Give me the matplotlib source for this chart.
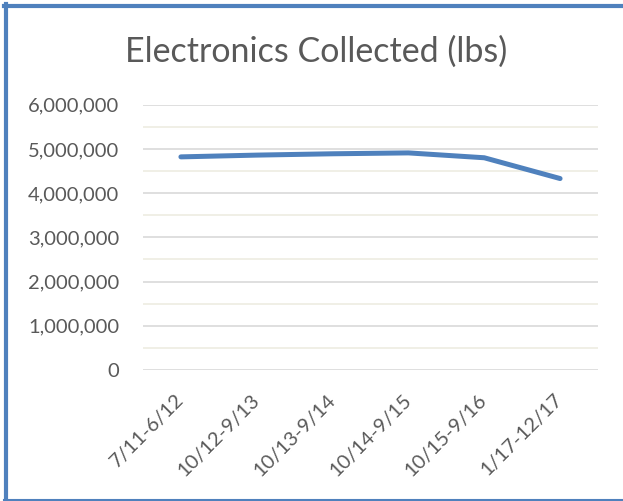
import matplotlib
matplotlib.use("Agg")
import matplotlib.pyplot as plt
from matplotlib.ticker import FuncFormatter, MultipleLocator
from matplotlib.lines import Line2D
from matplotlib.transforms import ScaledTranslation

categories = ["7/11-6/12", "10/12-9/13", "10/13-9/14", "10/14-9/15", "10/15-9/16", "1/17-12/17"]
values = [4820000, 4860000, 4890000, 4910000, 4800000, 4330000]
yticks = [0, 1000000, 2000000, 3000000, 4000000, 5000000, 6000000]

plt.rcParams['font.family'] = ['Lato', 'DejaVu Sans']

W, H = 623, 501
fig = plt.figure(figsize=(W/100, H/100), dpi=100)
ax = fig.add_axes([143/W, 1-370/H, (598-143)/W, (370-104.7)/H])

x = list(range(len(categories)))
ax.plot(x, values, color='#4F81BD', lw=3.6, solid_capstyle='round', solid_joinstyle='round', zorder=3)
ax.set_xlim(-0.5, len(categories)-0.5)
ax.set_ylim(0, 6000000)
ax.set_yticks(yticks)
ax.yaxis.set_minor_locator(MultipleLocator(500000))
ax.yaxis.set_major_formatter(FuncFormatter(lambda v, p: f"{int(v):,}"))
ax.set_xticks(x)
ax.set_xticklabels(categories, rotation=45, ha='right', va='top', rotation_mode='anchor')
ax.tick_params(axis='both', length=0, colors='#595959', labelsize=14.5)
ax.tick_params(axis='y', which='minor', length=0)
ax.tick_params(axis='x', pad=10)
ax.tick_params(axis='y', pad=17)
off = ScaledTranslation(-0.06, -0.07, fig.dpi_scale_trans)
for lab in ax.get_xticklabels():
    lab.set_transform(lab.get_transform() + off)
ax.grid(axis='y', which='major', color='#D9D9D9', lw=1.2, zorder=1)
ax.grid(axis='y', which='minor', color='#EEECE1', lw=1.2, zorder=1)
for s in ax.spines.values():
    s.set_visible(False)

fig.text(316/W, 1-52/H, "Electronics Collected (lbs)", ha='center', va='center', fontsize=24.5, color='#595959')

# border
bc = '#4F81BD'
fig.add_artist(Line2D([6/W, 6/W], [0, 1-4/H], transform=fig.transFigure, color=bc, lw=3))
fig.add_artist(Line2D([4/W, 1], [1-5.5/H, 1-5.5/H], transform=fig.transFigure, color=bc, lw=3))
fig.add_artist(Line2D([4/W, 1], [0.8/H, 0.8/H], transform=fig.transFigure, color=bc, lw=1.5))

fig.savefig("out.png", dpi=100)
